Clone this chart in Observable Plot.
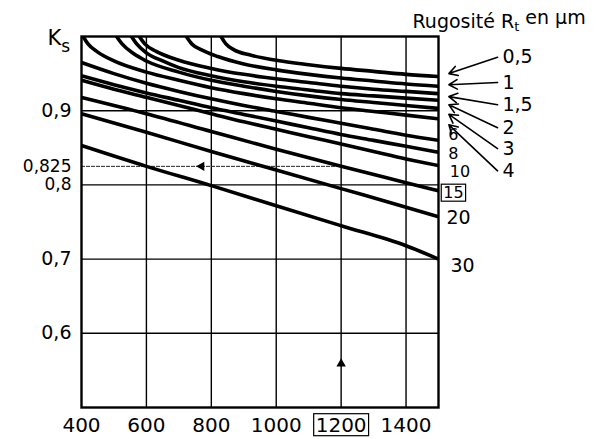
<!DOCTYPE html>
<html><head><meta charset="utf-8">
<script src="https://cdn.jsdelivr.net/npm/d3@7"></script>
<script src="https://cdn.jsdelivr.net/npm/@observablehq/plot@0.6"></script>
<style>
html,body{margin:0;padding:0;background:#fff;}
</style></head><body><div id="chart"></div>
<script>
// ---- data ----
const rmTicks = [400, 600, 800, 1000, 1200, 1400];
const ksTicksMain = [0.6, 0.7, 0.9];
const ksTicksClose = [0.8, 0.825];
const gridRm = [600, 800, 1000, 1200, 1400];
const gridKs = [0.6, 0.7, 0.8, 0.9];
const roughness = ["0,5", "1", "1,5", "2", "3", "4", "6", "8", "10", "15", "20", "30"];

const c05 = [[830,1.0],[845,0.99],[870,0.982],[920,0.975],[1000,0.968],[1100,0.962],[1200,0.957],[1300,0.953],[1400,0.949],[1500,0.946]];
const c1  = [[723,1.0],[740,0.99],[770,0.982],[820,0.973],[900,0.963],[1000,0.955],[1100,0.949],[1200,0.944],[1300,0.940],[1400,0.936],[1500,0.933]];
const c15 = [[578,1.0],[595,0.99],[630,0.98],[700,0.968],[800,0.957],[900,0.949],[1000,0.943],[1100,0.938],[1200,0.933],[1300,0.929],[1400,0.926],[1500,0.923]];
const c2  = [[554,1.0],[570,0.99],[600,0.978],[650,0.967],[700,0.958],[800,0.947],[900,0.939],[1000,0.933],[1100,0.928],[1200,0.923],[1300,0.920],[1400,0.917],[1500,0.914]];
const c3  = [[508,1.0],[525,0.99],[560,0.977],[600,0.967],[700,0.952],[800,0.941],[900,0.933],[1000,0.926],[1100,0.920],[1200,0.915],[1300,0.911],[1400,0.907],[1500,0.903]];
const c4  = [[405,1.0],[420,0.99],[450,0.979],[500,0.967],[600,0.952],[700,0.941],[800,0.931],[900,0.923],[1000,0.916],[1100,0.910],[1200,0.904],[1300,0.899],[1400,0.894],[1500,0.889]];
const c6  = [[400,0.965],[500,0.950],[600,0.937],[700,0.926],[800,0.916],[900,0.907],[1000,0.899],[1100,0.891],[1200,0.883],[1300,0.875],[1400,0.867],[1500,0.860]];
const c8  = [[400,0.947],[500,0.935],[600,0.924],[700,0.914],[800,0.904],[900,0.895],[1000,0.886],[1100,0.877],[1200,0.868],[1300,0.860],[1400,0.852],[1500,0.844]];
const c10 = [[400,0.941],[500,0.929],[600,0.918],[700,0.907],[800,0.896],[900,0.885],[1000,0.875],[1100,0.865],[1200,0.855],[1300,0.845],[1400,0.835],[1500,0.826]];
const c15b = [[400,0.918],[600,0.896],[800,0.872],[1000,0.848],[1200,0.825],[1400,0.803],[1500,0.792]];
const c20 = [[400,0.896],[600,0.871],[800,0.845],[1000,0.820],[1200,0.795],[1400,0.770],[1500,0.757]];
const c30 = [[400,0.853],[600,0.825],[800,0.799],[1000,0.772],[1200,0.745],[1400,0.718],[1500,0.700]];

// worked example: Rm = 1200, Rt = 15 -> Ks = 0.825
const exampleRm = 1200;
const exampleKs = 0.825;
const exampleArrowRm = 770;     // left-pointing arrowhead on the 0.825 line
const exampleArrowKs = 0.559;   // up-pointing arrowhead on the 1200 line

// right-hand labels: first six reached by arrows, the rest placed beside the curve ends
const arrowLabelKs = [0.972, 0.938, 0.908, 0.877, 0.849, 0.819];
const arrowTipKs   = [0.950, 0.935, 0.919, 0.908, 0.895, 0.881];
const arrowTailRm = 1682, arrowTipRm = 1532, arrowLabelRm = 1697;
const crowdedLabelRm = [1546, 1546, 1566, 1546];
const crowdedLabelKs = [0.867, 0.842, 0.817, 0.789];
const openLabelRm = [1562, 1574];
const openLabelKs = [0.756, 0.691];

// ---- build tables ----
const curves = [c05, c1, c15, c2, c3, c4, c6, c8, c10, c15b, c20, c30];
const lineData = curves.flatMap((pts, i) => pts.map(([rm, ks]) => ({rm, ks, rt: roughness[i]})));
const arrowData = arrowLabelKs.map((k, i) => ({label: roughness[i], ly: k, ty: arrowTipKs[i]}));
const crowdedData = crowdedLabelKs.map((k, i) => ({label: roughness[i + 6], x: crowdedLabelRm[i], y: k}));
const openData = openLabelKs.map((k, i) => ({label: roughness[i + 10], x: openLabelRm[i], y: k}));
const fmt = d => String(d).replace(".", ",");

const plot = Plot.plot({
  width: 604,
  height: 439,
  marginLeft: 81,
  marginRight: 166,
  marginTop: 36,
  marginBottom: 32,
  style: {fontFamily: "'DejaVu Sans', sans-serif", fontSize: "20px", background: "#fff", color: "#000", overflow: "visible"},
  x: {domain: [400, 1500]},
  y: {domain: [0.5, 1.0]},
  marks: [
    Plot.gridX(gridRm, {stroke: "#000", strokeOpacity: 1, strokeWidth: 1.4}),
    Plot.gridY(gridKs, {stroke: "#000", strokeOpacity: 1, strokeWidth: 1.4}),
    Plot.ruleY([exampleKs], {x1: rmTicks[0], x2: exampleRm, stroke: "#222", strokeWidth: 1, strokeDasharray: "4,1"}),
    Plot.line(lineData, {x: "rm", y: "ks", z: "rt", stroke: "#000", strokeWidth: 3.6, curve: "monotone-x", clip: true}),
    Plot.frame({stroke: "#000", strokeWidth: 2.4}),
    Plot.axisX({ticks: rmTicks, tickSize: 0, tickPadding: 10, tickFormat: fmt, label: null, fontSize: 20}),
    Plot.axisY({ticks: ksTicksMain, tickSize: 0, tickPadding: 10, tickFormat: fmt, label: null, fontSize: 19}),
    Plot.axisY({ticks: ksTicksClose, tickSize: 0, tickPadding: 10, tickFormat: fmt, label: null, fontSize: 17}),
    Plot.dot([0], {x: () => exampleArrowRm, y: () => exampleKs, symbol: "triangle", rotate: -90, r: 3.5, fill: "#000"}),
    Plot.dot([0], {x: () => exampleRm, y: () => exampleArrowKs, symbol: "triangle", rotate: 0, r: 3.5, fill: "#000"}),
    Plot.arrow(arrowData, {x1: () => arrowTailRm, y1: "ly", x2: () => arrowTipRm, y2: "ty", stroke: "#000", strokeWidth: 1.6, headLength: 9, insetEnd: 0}),
    Plot.text(arrowData, {x: () => arrowLabelRm, y: "ly", text: "label", textAnchor: "start", fontSize: 19}),
    Plot.text(crowdedData, {x: "x", y: "y", text: "label", textAnchor: "middle", fontSize: 16}),
    Plot.text(openData, {x: "x", y: "y", text: "label", textAnchor: "middle", fontSize: 19}),
    Plot.text([0], {frameAnchor: "top-left", text: () => "Ks", textAnchor: "start", lineAnchor: "bottom", dx: -34, dy: 8, fontSize: 21}),
    Plot.text([0], {frameAnchor: "top-right", text: () => "Rugosité Rt en µm", textAnchor: "start", lineAnchor: "bottom", dx: -26, dy: -9, fontSize: 19})
  ]
});
document.getElementById("chart").appendChild(plot);

// ---- rich text and boxed labels ----
const svg = d3.select(plot);
svg.selectAll("text").each(function () {
  const t = d3.select(this);
  const s = this.textContent;
  if (s === "Ks") {
    t.text(null);
    t.append("tspan").text("K");
    t.append("tspan").attr("dy", "0.45em").attr("font-size", "17px").text("s");
  } else if (s === "Rugosité Rt en µm") {
    t.text(null);
    t.append("tspan").text("Rugosité R");
    t.append("tspan").attr("dy", "0.3em").attr("font-size", "13px").text("t");
    t.append("tspan").attr("dy", "-0.4em").text(" en µm");
  }
});
svg.selectAll("text").filter(function () { return this.textContent === "1200" || this.textContent === "15"; })
  .each(function () {
    const b = this.getBBox();
    const m = this.getCTM();
    const p = plot.createSVGPoint(); p.x = b.x; p.y = b.y;
    const q = p.matrixTransform(m);
    svg.append("rect").attr("x", q.x - 2).attr("y", q.y + 1).attr("width", b.width + 4).attr("height", b.height - 2)
      .attr("fill", "none").attr("stroke", "#000").attr("stroke-width", 1.2);
  });
</script>
</body></html>
